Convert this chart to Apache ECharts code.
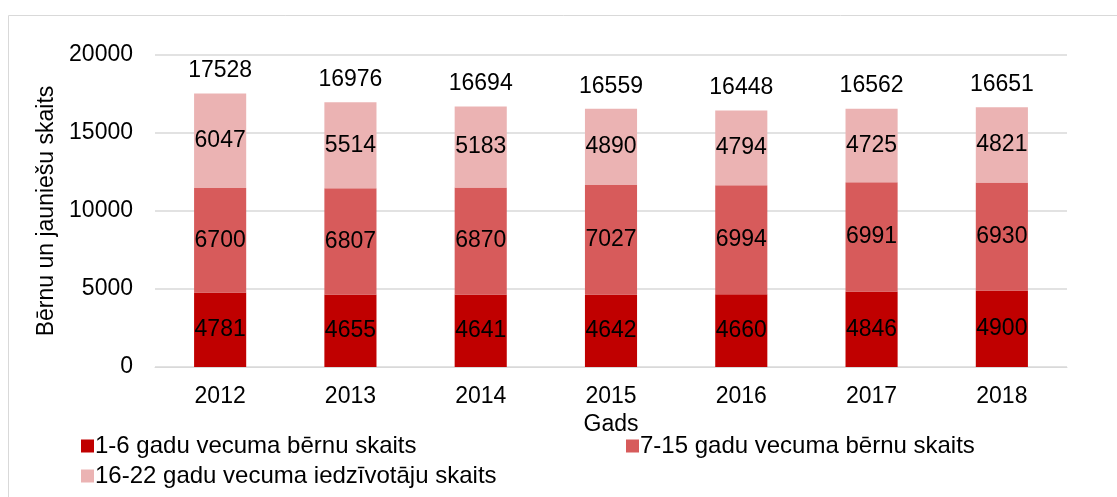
<!DOCTYPE html>
<html>
<head>
<meta charset="utf-8">
<script src="https://cdn.jsdelivr.net/npm/echarts@6/dist/echarts.min.js"></script>
<style>
  html, body { margin: 0; padding: 0; background: #fff; }
  #chart { width: 1117px; height: 497px; }
</style>
</head>
<body>
<div id="chart"></div>
<script>
const years = ['2012', '2013', '2014', '2015', '2016', '2017', '2018'];
const age1to6 = [4781, 4655, 4641, 4642, 4660, 4846, 4900];
const age7to15 = [6700, 6807, 6870, 7027, 6994, 6991, 6930];
const age16to22 = [6047, 5514, 5183, 4890, 4794, 4725, 4821];
const totals = [17528, 16976, 16694, 16559, 16448, 16562, 16651];
const yTicks = [0, 5000, 10000, 15000, 20000];

const names = [
  '1-6 gadu vecuma bērnu skaits',
  '7-15 gadu vecuma bērnu skaits',
  '16-22 gadu vecuma iedzīvotāju skaits'
];
const colors = ['#C00000', '#D75B5B', '#EBB3B3'];
const font = 'Arial, "Liberation Sans", sans-serif';

let chart = echarts.init(document.getElementById('chart'));

function barSeries(name, data, color) {
  return {
    name: name,
    type: 'bar',
    stack: 'total',
    barWidth: '40%',
    data: data,
    itemStyle: { color: color },
    label: {
      show: true,
      position: 'inside',
      color: '#000',
      fontSize: 23,
      fontFamily: font
    }
  };
}

function legendAt(name, left, top) {
  return {
    data: [name],
    left: left,
    top: top,
    itemWidth: 13,
    itemHeight: 13,
    icon: 'rect',
    textStyle: { fontSize: 24, fontFamily: font, color: '#000', padding: [0, 0, 0, -4] }
  };
}

chart.setOption({
  animation: false,
  color: colors,
  graphic: [{
    type: 'rect',
    shape: { x: 8.5, y: 15.5, width: 1130, height: 500 },
    style: { fill: 'none', stroke: '#d9d9d9', lineWidth: 1 }
  }],
  grid: { left: 155, right: 50, top: 55, bottom: 130 },
  legend: [
    legendAt(names[0], 76, 429),
    legendAt(names[1], 621, 429),
    legendAt(names[2], 76, 459)
  ],
  xAxis: {
    type: 'category',
    data: years,
    name: 'Gads',
    nameLocation: 'middle',
    nameGap: 38,
    nameTextStyle: { fontSize: 23, fontFamily: font, color: '#000' },
    axisTick: { show: false },
    axisLine: { lineStyle: { color: '#d9d9d9' } },
    axisLabel: { fontSize: 23, fontFamily: font, color: '#000', margin: 18 }
  },
  yAxis: {
    type: 'value',
    min: yTicks[0],
    max: yTicks[yTicks.length - 1],
    interval: 5000,
    name: 'Bērnu un jauniešu skaits',
    nameLocation: 'middle',
    nameGap: 96,
    nameTextStyle: { fontSize: 23, fontFamily: font, color: '#000' },
    axisLine: { show: false },
    axisTick: { show: false },
    splitLine: { lineStyle: { color: '#d9d9d9', width: 1.5 } },
    axisLabel: {
      fontSize: 23, fontFamily: font, color: '#000', margin: 22,
      formatter: function (v) { return String(v); }
    }
  },
  series: [
    barSeries(names[0], age1to6, colors[0]),
    barSeries(names[1], age7to15, colors[1]),
    barSeries(names[2], age16to22, colors[2]),
    {
      name: 'Kopā',
      type: 'scatter',
      symbolSize: 0,
      data: totals,
      silent: true,
      itemStyle: { color: 'rgba(0,0,0,0)', opacity: 1 },
      label: {
        show: true,
        position: 'top',
        distance: 11,
        color: '#000',
        fontSize: 23,
        fontFamily: font
      }
    }
  ]
});
</script>
</body>
</html>
